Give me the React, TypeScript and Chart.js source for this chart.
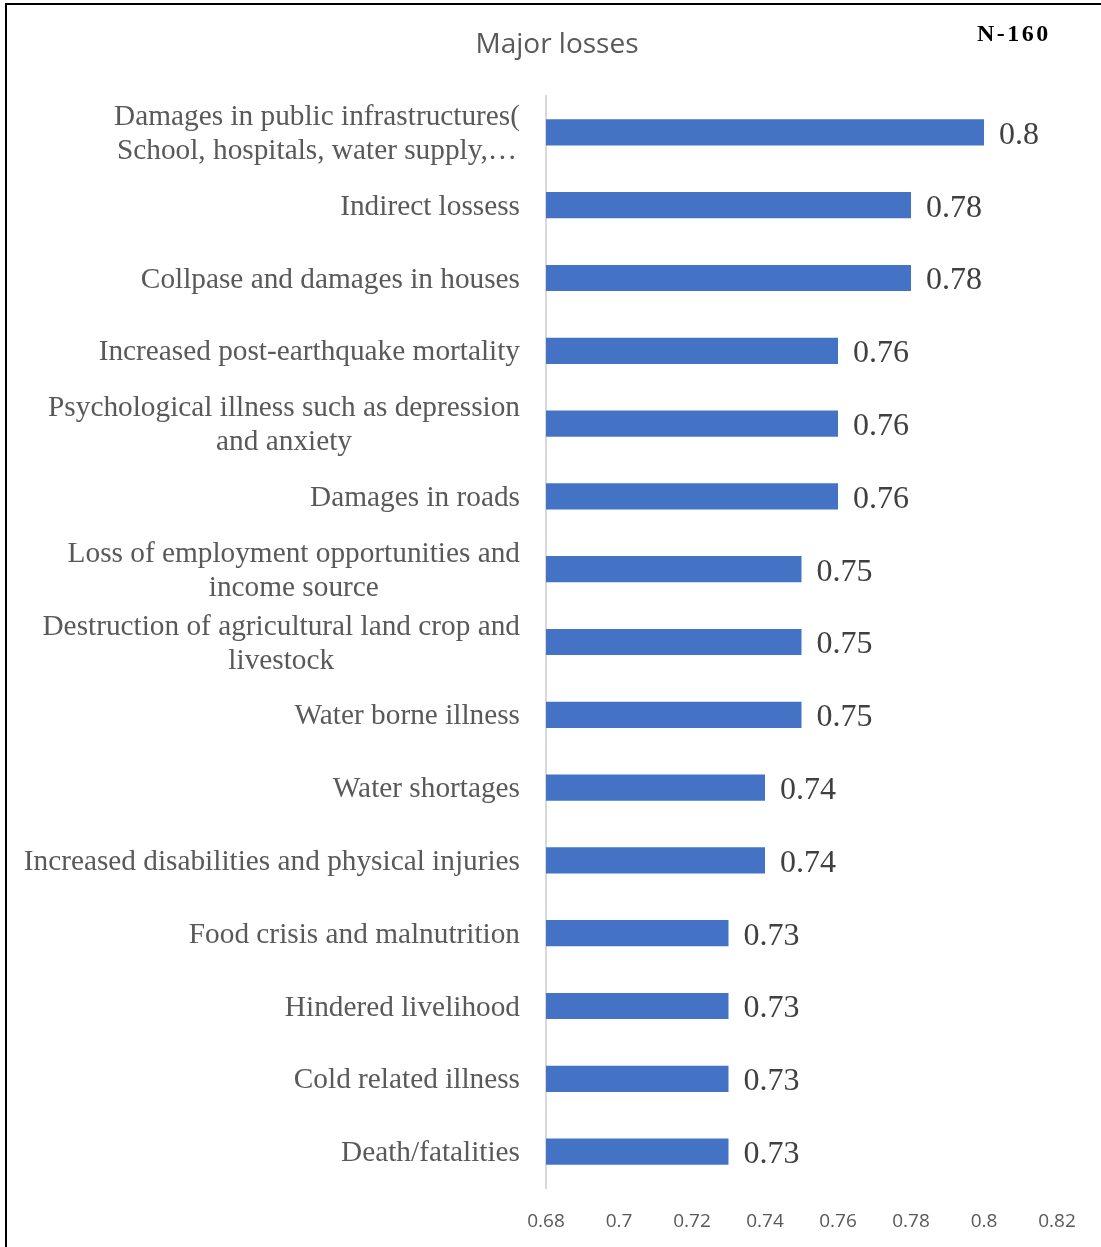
import React, { useEffect, useRef } from "react";
import { Chart, registerables } from "chart.js";

Chart.register(...registerables);

const categories: string[][] = [
  ["Damages in public infrastructures(", "School, hospitals, water supply,…"],
  ["Indirect lossess"],
  ["Collpase and damages in houses"],
  ["Increased post-earthquake mortality"],
  ["Psychological illness such as depression", "and anxiety"],
  ["Damages in roads"],
  ["Loss of employment opportunities and", "income source"],
  ["Destruction of agricultural land crop and", "livestock"],
  ["Water borne illness"],
  ["Water shortages"],
  ["Increased disabilities and physical injuries"],
  ["Food crisis and malnutrition"],
  ["Hindered livelihood"],
  ["Cold related illness"],
  ["Death/fatalities"],
];

const values: number[] = [0.8, 0.78, 0.78, 0.76, 0.76, 0.76, 0.75, 0.75, 0.75, 0.74, 0.74, 0.73, 0.73, 0.73, 0.73];

const xTicks: number[] = [0.68, 0.7, 0.72, 0.74, 0.76, 0.78, 0.8, 0.82];

const chartTitle = "Major losses";
const sampleNote = "N-160";

const W = 1101;
const H = 1247;
const SERIF = "'Liberation Serif', 'Times New Roman', serif";
const SANS = "'Open Sans', sans-serif";

export default function App() {
  const ref = useRef<HTMLCanvasElement | null>(null);

  useEffect(() => {
    document.body.style.margin = "0";
    const canvas = ref.current;
    if (!canvas) return;
    let chart: any = null;
    let cancelled = false;

    const decor = {
      id: "decor",
      beforeDraw(c: any) {
        const ctx = c.ctx;
        ctx.save();
        ctx.fillStyle = "#ffffff";
        ctx.fillRect(0, 0, c.width, c.height);
        ctx.fillStyle = "#000000";
        ctx.fillRect(5, 3, 2, c.height - 3);
        ctx.fillRect(5, 3, c.width - 5, 2);
        ctx.fillStyle = "#595959";
        ctx.font = "28px " + SANS;
        ctx.textAlign = "center";
        ctx.textBaseline = "middle";
        ctx.fillText(chartTitle, 557, 45);
        ctx.fillStyle = "#000000";
        ctx.font = "bold 24px " + SERIF;
        ctx.textAlign = "left";
        (ctx as any).letterSpacing = "2.5px";
        ctx.fillText(sampleNote, 977, 35);
        (ctx as any).letterSpacing = "0px";
        ctx.restore();
      },
      afterDraw(c: any) {
        const ctx = c.ctx;
        const yScale = c.scales.y;
        ctx.save();
        ctx.font = "29.3px " + SERIF;
        ctx.fillStyle = "#595959";
        ctx.textAlign = "center";
        ctx.textBaseline = "middle";
        const right = 520;
        const lh = 34;
        categories.forEach((lines, i) => {
          const cy = yScale.getPixelForTick(i) + 2;
          const maxW = Math.max(...lines.map((l) => ctx.measureText(l).width));
          const cx = right - maxW / 2;
          const y0 = cy - ((lines.length - 1) * lh) / 2;
          lines.forEach((l, j) => ctx.fillText(l, cx, y0 + j * lh));
        });
        const meta = c.getDatasetMeta(0);
        ctx.font = "32px " + SERIF;
        ctx.fillStyle = "#404040";
        ctx.textAlign = "left";
        meta.data.forEach((bar: any, i: number) => {
          ctx.fillText(String(values[i]), bar.x + 15, bar.y + 3);
        });
        ctx.restore();
      },
    };

    const build = () => {
      if (cancelled) return;
      chart = new Chart(canvas, {
        type: "bar",
        data: {
          labels: categories.map((c) => c.join(" ")),
          datasets: [
            {
              data: values,
              backgroundColor: "#4472C4",
              borderWidth: 0,
              barPercentage: 0.36,
              categoryPercentage: 1,
            },
          ],
        },
        options: {
          indexAxis: "y",
          responsive: false,
          animation: false,
          devicePixelRatio: 1,
          layout: { padding: { left: 0, right: 44, top: 96, bottom: 0 } },
          plugins: {
            legend: { display: false },
            title: { display: false },
            tooltip: { enabled: false },
          },
          scales: {
            x: {
              min: 0.68,
              max: 0.82,
              afterBuildTicks(scale: any) {
                scale.ticks = xTicks.map((v) => ({ value: v }));
              },
              afterFit(scale: any) {
                scale.height = 59;
              },
              grid: { display: false, drawTicks: false },
              border: { display: false },
              ticks: {
                padding: 22,
                color: "#595959",
                font: { family: SANS, size: 19 },
                callback: (v: any) => String(Math.round(Number(v) * 100) / 100),
              },
            },
            y: {
              afterFit(scale: any) {
                scale.width = 546;
              },
              grid: { display: false, drawTicks: false },
              border: { display: true, color: "#D9D9D9", width: 2 },
              ticks: { display: false },
            },
          },
        },
        plugins: [decor],
      } as any);
    };

    const fonts: any = (document as any).fonts;
    if (fonts && fonts.load) {
      Promise.all([
        fonts.load("29px 'Liberation Serif'"),
        fonts.load("bold 24px 'Liberation Serif'"),
        fonts.load("28px 'Open Sans'"),
      ])
        .catch(() => null)
        .then(build);
    } else {
      build();
    }

    return () => {
      cancelled = true;
      if (chart) chart.destroy();
    };
  }, []);

  return (
    <div style={{ width: W, height: H }}>
      <canvas ref={ref} width={W} height={H} style={{ display: "block" }} />
    </div>
  );
}
